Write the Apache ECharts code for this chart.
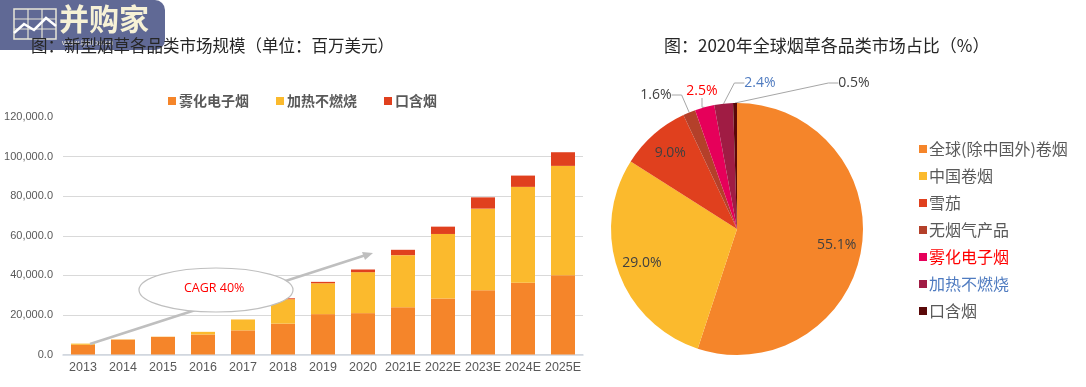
<!DOCTYPE html>
<html>
<head>
<meta charset="utf-8">
<script src="https://cdn.jsdelivr.net/npm/echarts@6/dist/echarts.min.js"></script>
<style>
html,body{margin:0;padding:0;background:#fff;}
#c{width:1086px;height:387px;}
</style>
</head>
<body>
<div id="c"></div>
<script>
// ---- data ----
var years = ['2013','2014','2015','2016','2017','2018','2019','2020','2021E','2022E','2023E','2024E','2025E'];
var vapor = [4900, 7500, 8900, 10100, 12200, 15600, 20400, 20900, 23900, 28300, 32500, 36200, 40000];
var heatNotBurn = [600, 150, 100, 1350, 5500, 12300, 15600, 20700, 26300, 32600, 41200, 48500, 55300];
var oral = [0, 0, 0, 0, 0, 500, 700, 1350, 2700, 3700, 5700, 5700, 6900];
var barSeriesNames = ['雾化电子烟', '加热不燃烧', '口含烟'];
var yTicks = [0, 20000, 40000, 60000, 80000, 100000, 120000];

var pieNames = ['全球(除中国外)卷烟', '中国卷烟', '雪茄', '无烟气产品', '雾化电子烟', '加热不燃烧', '口含烟'];
var pieValues = [55.1, 29.0, 9.0, 1.6, 2.5, 2.4, 0.5];

var leftTitle = '图：新型烟草各品类市场规模（单位：百万美元）';
var rightTitle = '图：2020年全球烟草各品类市场占比（%）';
var cagrText = 'CAGR 40%';

// ---- styles ----
var barColors = ['#F5852A', '#FBBA2D', '#E0401E'];
var pieColors = ['#F5852A', '#FBBA2D', '#E0401E', '#B4402A', '#E6005A', '#A01C44', '#5A0808'];
var legendTextColors = ['#595959', '#595959', '#595959', '#595959', '#FF0000', '#4F7BC0', '#595959'];
var labelColors = ['#404040', '#404040', '#404040', '#404040', '#FF0000', '#4F7BC0', '#404040'];
// outside label placement (label text centres) for the small slices
var outerLabelPos = {3: [656, 95], 4: [702, 91], 5: [760, 83], 6: [854, 83]};

var chart = echarts.init(document.getElementById('c'), null, {renderer: 'canvas'});

var cjk = '"Noto Sans CJK SC", "Microsoft YaHei", sans-serif';
var latin = '"Liberation Sans", Arial, sans-serif';
var numFont = '"Open Sans", "Noto Sans", sans-serif';

var barSeries = [vapor, heatNotBurn, oral].map(function (arr, i) {
  return {
    name: barSeriesNames[i],
    type: 'bar',
    stack: 'total',
    barWidth: '60%',
    data: arr,
    itemStyle: {color: barColors[i]},
    emphasis: {disabled: true}
  };
});

var overlayData = pieNames.map(function (n, i) {
  return {
    name: n, value: pieValues[i],
    label: {show: i < 3, color: labelColors[i]}
  };
});

var outerData = pieNames.map(function (n, i) {
  return {
    name: n, value: pieValues[i],
    itemStyle: {color: pieColors[i]},
    label: {show: i >= 3, color: labelColors[i]},
    labelLine: {show: i >= 3}
  };
});

var option = {
  backgroundColor: '#ffffff',
  animation: false,
  textStyle: {fontFamily: cjk},
  title: [
    {text: leftTitle, left: 26, top: 32, textStyle: {fontFamily: cjk, fontSize: 16.5, fontWeight: 'normal', color: '#262626'}},
    {text: rightTitle, left: 659, top: 32, textStyle: {fontFamily: cjk, fontSize: 17, fontWeight: 'normal', color: '#262626'}}
  ],
  legend: [
    {
      data: barSeriesNames,
      left: 163, top: 89,
      itemWidth: 8, itemHeight: 8, itemGap: 27,
      icon: 'rect',
      textStyle: {fontFamily: cjk, fontSize: 14, fontWeight: 'bold', color: '#595959', padding: [0, 0, 0, -2]}
    },
    {
      data: pieNames.map(function (n, i) {
        return {name: n, itemStyle: {color: pieColors[i]}, textStyle: {color: legendTextColors[i]}};
      }),
      orient: 'vertical',
      left: 914, top: 136,
      itemWidth: 8, itemHeight: 8, itemGap: 11,
      icon: 'rect',
      textStyle: {fontFamily: cjk, fontSize: 16, color: '#595959', padding: [0, 0, 0, -3]}
    }
  ],
  grid: {left: 63, width: 520, top: 117, bottom: 32.5, containLabel: false},
  xAxis: {
    type: 'category',
    data: years,
    axisLine: {lineStyle: {color: '#d0d6e0', width: 1.5}},
    axisTick: {show: false},
    axisLabel: {fontFamily: latin, fontSize: 12.5, color: '#595959', margin: 7, interval: 0}
  },
  yAxis: {
    type: 'value',
    min: yTicks[0], max: yTicks[yTicks.length - 1], interval: yTicks[1] - yTicks[0],
    axisLine: {show: false},
    axisTick: {show: false},
    axisLabel: {
      fontFamily: latin, fontSize: 11, color: '#595959', margin: 10,
      formatter: function (v) { return v.toLocaleString('en-US') + '.0'; }
    },
    splitLine: {show: true, showMaxLine: false, lineStyle: {color: '#d9d9d9', width: 1}}
  },
  series: barSeries.concat([
    {
      name: 'pie',
      type: 'pie',
      center: [737, 229],
      radius: 126,
      startAngle: 90,
      clockwise: true,
      data: outerData,
      emphasis: {disabled: true},
      itemStyle: {borderWidth: 0},
      label: {
        position: 'outside',
        fontFamily: numFont, fontSize: 14,
        formatter: function (p) { return pieValues[p.dataIndex].toFixed(1) + '%'; }
      },
      labelLine: {length: 10, length2: 10, lineStyle: {color: '#a6a6a6', width: 1}},
      labelLayout: function (p) {
        var pos = outerLabelPos[p.dataIndex];
        if (!pos) return {};
        return {x: pos[0], y: pos[1], align: 'center', verticalAlign: 'middle'};
      }
    },
    {
      name: 'pieLabels',
      type: 'pie',
      center: [737, 229],
      radius: [70, 126],
      startAngle: 90,
      clockwise: true,
      silent: true,
      data: overlayData,
      itemStyle: {color: 'rgba(0,0,0,0)'},
      emphasis: {disabled: true},
      label: {
        position: 'inside',
        fontFamily: numFont, fontSize: 14,
        formatter: function (p) { return pieValues[p.dataIndex].toFixed(1) + '%'; }
      },
      labelLine: {show: false},
      tooltip: {show: false},
      legendHoverLink: false
    }
  ]),
  graphic: [
    // CAGR arrow
    {
      type: 'line', z: 10,
      shape: {x1: 90, y1: 344, x2: 366, y2: 255},
      style: {stroke: '#bfbfbf', lineWidth: 2.5}
    },
    {
      type: 'polygon', z: 10,
      shape: {points: [[373, 253], [362, 252], [365, 260]]},
      style: {fill: '#bfbfbf'}
    },
    {
      type: 'ellipse', z: 11,
      shape: {cx: 216, cy: 290, rx: 77, ry: 22},
      style: {fill: '#ffffff', stroke: '#bfbfbf', lineWidth: 1.2}
    },
    {
      type: 'text', z: 12,
      left: 184, top: 282,
      style: {text: cagrText, fill: '#FF0000', font: '12.5px "Open Sans", "Noto Sans", sans-serif'}
    },
    // watermark logo
    {
      type: 'group', z: 20, left: 0, top: 0,
      children: [
        {type: 'rect', shape: {x: 0, y: 0, width: 165, height: 50, r: [0, 10, 10, 0]}, style: {fill: 'rgba(82,92,140,0.92)'}},
        {type: 'rect', shape: {x: 14, y: 9, width: 42, height: 30}, style: {fill: 'none', stroke: '#e8e6d8', lineWidth: 1.5}},
        {type: 'line', shape: {x1: 14, y1: 19, x2: 56, y2: 19}, style: {stroke: '#e8e6d8', lineWidth: 1.2}},
        {type: 'line', shape: {x1: 14, y1: 29, x2: 56, y2: 29}, style: {stroke: '#e8e6d8', lineWidth: 1.2}},
        {type: 'line', shape: {x1: 28, y1: 9, x2: 28, y2: 39}, style: {stroke: '#e8e6d8', lineWidth: 1.2}},
        {type: 'line', shape: {x1: 42, y1: 9, x2: 42, y2: 39}, style: {stroke: '#e8e6d8', lineWidth: 1.2}},
        {type: 'polyline', shape: {points: [[14, 33], [24, 24], [34, 30], [46, 18], [56, 26]]}, style: {stroke: '#ffffff', lineWidth: 2.5, fill: 'none'}},
        {type: 'text', x: 59, y: 4, style: {text: '并购家', fill: '#f6f1d6', font: 'bold 30px "Noto Sans CJK SC", sans-serif'}},
        {type: 'text', x: 62, y: 39, style: {text: 'www.ipoipo.cn', fill: '#e8e6d8', font: '8px "Liberation Sans", sans-serif'}}
      ]
    }
  ]
};

chart.setOption(option);
</script>
</body>
</html>
